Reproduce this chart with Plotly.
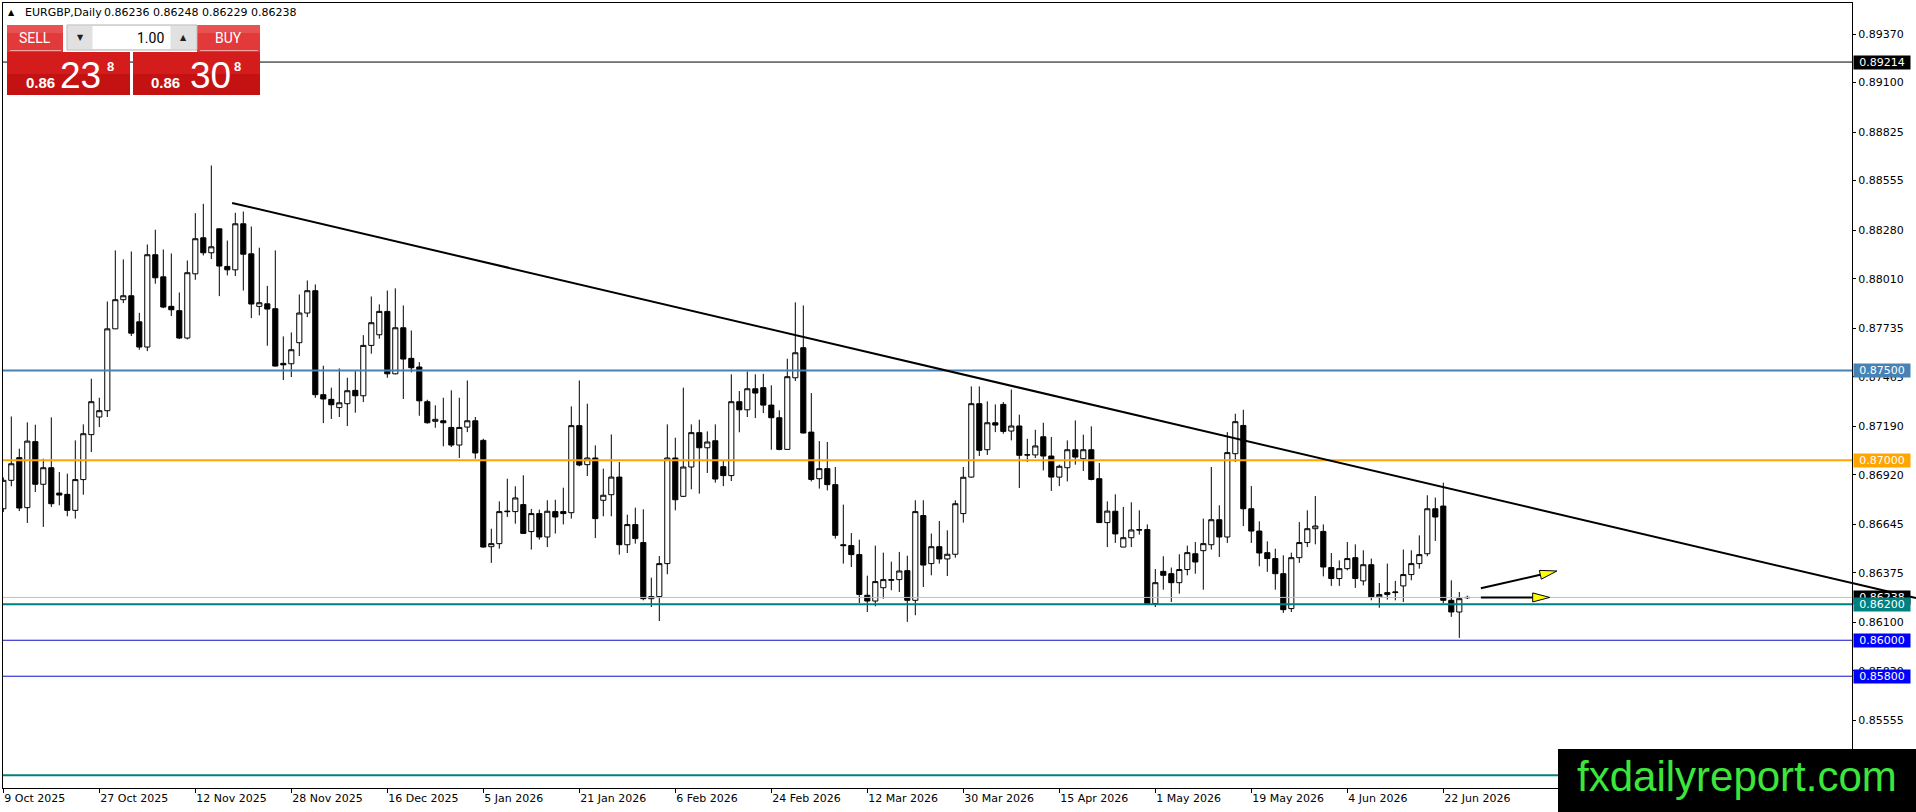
import pandas as pd
import plotly.graph_objects as go

# ---- data (EURGBP daily) ----
holidays = ["2025-12-25", "2026-01-01"]
dates = [d for d in pd.bdate_range("2025-10-09", periods=190)
         if d.strftime("%Y-%m-%d") not in holidays][:184]

open_ = [0.86731, 0.86889, 0.87015, 0.86737, 0.87104, 0.86867, 0.86959, 0.86818, 0.86811, 0.86722,
         0.86893, 0.87143, 0.87241, 0.87276, 0.87731, 0.87893, 0.87915, 0.87770, 0.87630, 0.88143,
         0.88020, 0.87856, 0.87832, 0.87680, 0.88037, 0.88237, 0.88154, 0.88287, 0.88078, 0.88059,
         0.88315, 0.88148, 0.87856, 0.87870, 0.87843, 0.87539, 0.87537, 0.87654, 0.87819, 0.87943,
         0.87365, 0.87339, 0.87293, 0.87315, 0.87389, 0.87359, 0.87639, 0.87698, 0.87828, 0.87481,
         0.87737, 0.87567, 0.87519, 0.87326, 0.87217, 0.87220, 0.87183, 0.87085, 0.87185, 0.87220,
         0.87111, 0.86520, 0.86537, 0.86718, 0.86715, 0.86754, 0.86604, 0.86704, 0.86574, 0.86715,
         0.86715, 0.86709, 0.87193, 0.86976, 0.87013, 0.86778, 0.86809, 0.86907, 0.86531, 0.86643,
         0.86543, 0.86231, 0.86243, 0.86426, 0.87013, 0.86800, 0.86963, 0.87154, 0.87070, 0.87109,
         0.86965, 0.86915, 0.87326, 0.87281, 0.87398, 0.87404, 0.87307, 0.87237, 0.87061, 0.87459,
         0.87626, 0.87157, 0.86898, 0.86954, 0.86865, 0.86531, 0.86526, 0.86476, 0.86250, 0.86218,
         0.86292, 0.86333, 0.86337, 0.86387, 0.86222, 0.86693, 0.86426, 0.86520, 0.86452, 0.86478,
         0.86704, 0.86907, 0.87315, 0.87059, 0.87209, 0.87311, 0.87163, 0.87191, 0.87031, 0.87030,
         0.87131, 0.87024, 0.86907, 0.86959, 0.87059, 0.87009, 0.87059, 0.86898, 0.86654, 0.86717,
         0.86518, 0.86570, 0.86615, 0.86615, 0.86204, 0.86383, 0.86370, 0.86320, 0.86393, 0.86481,
         0.86498, 0.86531, 0.86670, 0.86574, 0.87037, 0.87194, 0.86731, 0.86607, 0.86487, 0.86454,
         0.86370, 0.86176, 0.86459, 0.86543, 0.86620, 0.86605, 0.86404, 0.86343, 0.86398, 0.86459,
         0.86330, 0.86420, 0.86241, 0.86254, 0.86265, 0.86302, 0.86365, 0.86426, 0.86481, 0.86731,
         0.86746, 0.86222, 0.86157, 0.86236]
high = [0.86905, 0.87244, 0.87065, 0.87211, 0.87198, 0.87009, 0.87239, 0.86935, 0.86926, 0.87111,
        0.87200, 0.87454, 0.87348, 0.87883, 0.88167, 0.88117, 0.88161, 0.87820, 0.88200, 0.88282,
        0.88172, 0.88150, 0.87933, 0.88111, 0.88374, 0.88426, 0.88639, 0.88290, 0.88222, 0.88376,
        0.88383, 0.88300, 0.88182, 0.87970, 0.88167, 0.87689, 0.87711, 0.87922, 0.88000, 0.87978,
        0.87526, 0.87404, 0.87511, 0.87459, 0.87496, 0.87696, 0.87911, 0.87867, 0.87944, 0.87956,
        0.87861, 0.87722, 0.87546, 0.87337, 0.87306, 0.87348, 0.87389, 0.87348, 0.87444, 0.87241,
        0.87120, 0.86620, 0.86772, 0.86898, 0.86856, 0.86917, 0.86730, 0.86726, 0.86778, 0.86781,
        0.86848, 0.87300, 0.87444, 0.87315, 0.87083, 0.86954, 0.87144, 0.86991, 0.86698, 0.86737,
        0.86728, 0.86348, 0.86468, 0.87200, 0.87126, 0.87404, 0.87200, 0.87226, 0.87161, 0.87200,
        0.87000, 0.87478, 0.87385, 0.87494, 0.87478, 0.87481, 0.87417, 0.87278, 0.87565, 0.87878,
        0.87861, 0.87374, 0.87107, 0.87102, 0.86963, 0.86754, 0.86596, 0.86559, 0.86359, 0.86526,
        0.86487, 0.86437, 0.86491, 0.86470, 0.86778, 0.86778, 0.86593, 0.86663, 0.86611, 0.86778,
        0.86963, 0.87411, 0.87411, 0.87328, 0.87311, 0.87324, 0.87394, 0.87254, 0.87120, 0.87170,
        0.87209, 0.87130, 0.86976, 0.87111, 0.87222, 0.87143, 0.87189, 0.86985, 0.86772, 0.86811,
        0.86741, 0.86767, 0.86722, 0.86644, 0.86396, 0.86467, 0.86404, 0.86478, 0.86526, 0.86546,
        0.86676, 0.86963, 0.86750, 0.87157, 0.87259, 0.87281, 0.86857, 0.86661, 0.86550, 0.86509,
        0.86472, 0.86487, 0.86657, 0.86722, 0.86802, 0.86644, 0.86485, 0.86444, 0.86546, 0.86533,
        0.86500, 0.86454, 0.86318, 0.86426, 0.86330, 0.86504, 0.86500, 0.86583, 0.86806, 0.86793,
        0.86876, 0.86333, 0.86268, 0.86248]
low = [0.86713, 0.86856, 0.86718, 0.86652, 0.86824, 0.86630, 0.86741, 0.86750, 0.86689, 0.86676,
       0.86809, 0.87046, 0.87185, 0.87241, 0.87730, 0.87874, 0.87691, 0.87615, 0.87607, 0.87982,
       0.87846, 0.87802, 0.87674, 0.87672, 0.88004, 0.88139, 0.88119, 0.87913, 0.88028, 0.88024,
       0.87944, 0.87791, 0.87806, 0.87637, 0.87522, 0.87446, 0.87463, 0.87580, 0.87796, 0.87348,
       0.87207, 0.87230, 0.87241, 0.87191, 0.87265, 0.87324, 0.87593, 0.87676, 0.87459, 0.87478,
       0.87341, 0.87489, 0.87248, 0.87204, 0.87181, 0.87078, 0.87074, 0.87013, 0.87157, 0.87009,
       0.86515, 0.86430, 0.86509, 0.86685, 0.86648, 0.86593, 0.86504, 0.86559, 0.86518, 0.86593,
       0.86644, 0.86676, 0.86967, 0.86913, 0.86568, 0.86689, 0.86689, 0.86476, 0.86485, 0.86537,
       0.86222, 0.86185, 0.86107, 0.86367, 0.86722, 0.86796, 0.86839, 0.86815, 0.86930, 0.86876,
       0.86857, 0.86885, 0.87156, 0.87241, 0.87235, 0.87263, 0.87059, 0.87056, 0.87059, 0.87441,
       0.87150, 0.86883, 0.86843, 0.86833, 0.86565, 0.86426, 0.86407, 0.86207, 0.86157, 0.86189,
       0.86231, 0.86278, 0.86268, 0.86102, 0.86139, 0.86296, 0.86361, 0.86426, 0.86357, 0.86459,
       0.86654, 0.86904, 0.87024, 0.87030, 0.87157, 0.87148, 0.87111, 0.86846, 0.86991, 0.87013,
       0.86944, 0.86830, 0.86857, 0.86883, 0.86976, 0.86941, 0.86889, 0.86652, 0.86518, 0.86541,
       0.86517, 0.86518, 0.86587, 0.86202, 0.86185, 0.86281, 0.86213, 0.86259, 0.86361, 0.86370,
       0.86281, 0.86504, 0.86463, 0.86541, 0.86991, 0.86635, 0.86541, 0.86411, 0.86380, 0.86281,
       0.86152, 0.86157, 0.86430, 0.86518, 0.86533, 0.86355, 0.86302, 0.86302, 0.86389, 0.86291,
       0.86305, 0.86222, 0.86181, 0.86226, 0.86222, 0.86213, 0.86333, 0.86398, 0.86467, 0.86552,
       0.86207, 0.86130, 0.86013, 0.86229]
close = [0.86889, 0.86981, 0.86735, 0.87107, 0.86867, 0.86959, 0.86759, 0.86807, 0.86722, 0.86893,
         0.87148, 0.87326, 0.87276, 0.87731, 0.87893, 0.87915, 0.87707, 0.87630, 0.88143, 0.88015,
         0.87852, 0.87837, 0.87680, 0.88043, 0.88232, 0.88154, 0.88187, 0.88080, 0.88059, 0.88315,
         0.88146, 0.87869, 0.87876, 0.87841, 0.87524, 0.87531, 0.87615, 0.87819, 0.87943, 0.87365,
         0.87341, 0.87309, 0.87320, 0.87387, 0.87359, 0.87639, 0.87765, 0.87828, 0.87481, 0.87737,
         0.87563, 0.87515, 0.87331, 0.87209, 0.87228, 0.87209, 0.87085, 0.87183, 0.87220, 0.87041,
         0.86518, 0.86537, 0.86715, 0.86715, 0.86791, 0.86594, 0.86704, 0.86574, 0.86717, 0.86685,
         0.86704, 0.87193, 0.86974, 0.87013, 0.86676, 0.86806, 0.86907, 0.86531, 0.86643, 0.86565,
         0.86231, 0.86243, 0.86426, 0.87013, 0.86781, 0.86963, 0.87154, 0.87070, 0.87102, 0.86896,
         0.86915, 0.87326, 0.87281, 0.87398, 0.87374, 0.87307, 0.87237, 0.87061, 0.87465, 0.87598,
         0.87152, 0.86894, 0.86954, 0.86865, 0.86583, 0.86526, 0.86476, 0.86255, 0.86218, 0.86326,
         0.86337, 0.86337, 0.86385, 0.86222, 0.86715, 0.86418, 0.86520, 0.86452, 0.86478, 0.86759,
         0.86906, 0.87315, 0.87056, 0.87209, 0.87196, 0.87161, 0.87191, 0.87028, 0.87030, 0.87080,
         0.87024, 0.86907, 0.86967, 0.87059, 0.87018, 0.87059, 0.86894, 0.86654, 0.86718, 0.86591,
         0.86570, 0.86613, 0.86613, 0.86204, 0.86320, 0.86361, 0.86320, 0.86393, 0.86487, 0.86435,
         0.86537, 0.86670, 0.86574, 0.87043, 0.87215, 0.86731, 0.86607, 0.86485, 0.86454, 0.86370,
         0.86170, 0.86459, 0.86543, 0.86620, 0.86635, 0.86407, 0.86343, 0.86398, 0.86454, 0.86343,
         0.86420, 0.86241, 0.86254, 0.86265, 0.86268, 0.86365, 0.86426, 0.86476, 0.86731, 0.86685,
         0.86222, 0.86157, 0.86231, 0.86238]

bar = list(range(len(dates)))
tick_bars = bar[::12]
tick_text = [dates[i].strftime("%-d %b %Y") for i in tick_bars]
price_ticks = [0.89370, 0.89100, 0.88825, 0.88555, 0.88280, 0.88010, 0.87735, 0.87465,
               0.87190, 0.86920, 0.86645, 0.86375, 0.86100, 0.85830, 0.85555]

# horizontal levels drawn on the chart
level_prices = [0.89214, 0.87500, 0.87000, 0.86200, 0.86000, 0.85800, 0.85250]
# trend line anchors (bar index, price)
trend_bars = [28.6, 180.0]
trend_prices = [0.88431, 0.86851]
# the two drawn arrows: start / end (bar index, price)
arrow_bars = [(184.7, 194.2), (184.7, 193.3)]
arrow_prices = [(0.86289, 0.86385), (0.86238, 0.86238)]

# ---- geometry ----
W, H = 1916, 812
ML, MR, MT, MB = 3, 64, 3, 24
PW, PH = W - ML - MR, H - MT - MB
X0, X1 = -0.0375, -0.0375 + PW / 8.0
Y0, Y1 = 0.851787, 0.895423
FONT = "DejaVu Sans"


def pxx(x):
    return (x - ML) / PW


def pxy(y):
    return (MT + PH - y) / PH


def data_to_px(i, p):
    return ML + (i - X0) / (X1 - X0) * PW, MT + (Y1 - p) / (Y1 - Y0) * PH


fig = go.Figure(go.Candlestick(
    x=bar, open=open_, high=high, low=low, close=close,
    increasing=dict(line=dict(color="black", width=1), fillcolor="white"),
    decreasing=dict(line=dict(color="black", width=1), fillcolor="black"),
    whiskerwidth=0, hoverinfo="skip", showlegend=False,
))

shapes = []
level_line = [("#000000", 1), ("#4682B4", 2), ("#FFA500", 2), ("#008080", 2),
              ("#1010C8", 1), ("#1010C8", 1), ("#008080", 2)]
# bid line
shapes.append(dict(type="line", xref="paper", x0=0, x1=1, yref="y", y0=close[-1], y1=close[-1],
                   line=dict(color="#C0C0C0", width=1)))
for p, (c, w) in zip(level_prices, level_line):
    shapes.append(dict(type="line", xref="paper", x0=0, x1=1, yref="y", y0=p, y1=p,
                       line=dict(color=c, width=w)))

# trend line, extended to the right edge and a little over the price scale
slope = (trend_prices[1] - trend_prices[0]) / (trend_bars[1] - trend_bars[0])
y_edge = trend_prices[0] + slope * (X1 - trend_bars[0])
shapes.append(dict(type="line", xref="x", yref="y", x0=trend_bars[0], y0=trend_prices[0],
                   x1=X1, y1=y_edge, line=dict(color="black", width=2)))
x_far = X1 + MR / 8.0
y_far = trend_prices[0] + slope * (x_far - trend_bars[0])
shapes.append(dict(type="line", xref="paper", yref="paper", x0=1, y0=(y_edge - Y0) / (Y1 - Y0),
                   x1=(x_far - X0) / (X1 - X0), y1=(y_far - Y0) / (Y1 - Y0),
                   line=dict(color="black", width=2)))

# yellow arrows
for (b0, b1), (p0, p1) in zip(arrow_bars, arrow_prices):
    sx, sy = data_to_px(b0, p0)
    tx, ty = data_to_px(b1, p1)
    dx, dy = tx - sx, ty - sy
    n = (dx * dx + dy * dy) ** 0.5
    ux, uy = dx / n, dy / n
    bx, by = tx - 17 * ux, ty - 17 * uy
    shapes.append(dict(type="line", xref="paper", yref="paper", x0=pxx(sx), y0=pxy(sy),
                       x1=pxx(bx), y1=pxy(by), line=dict(color="black", width=2)))
    c1 = (bx - 4.5 * uy, by + 4.5 * ux)
    c2 = (bx + 4.5 * uy, by - 4.5 * ux)
    path = "M {:.5f},{:.5f} L {:.5f},{:.5f} L {:.5f},{:.5f} Z".format(
        pxx(tx), pxy(ty), pxx(c1[0]), pxy(c1[1]), pxx(c2[0]), pxy(c2[1]))
    shapes.append(dict(type="path", xref="paper", yref="paper", path=path,
                       fillcolor="#FFFF00", line=dict(color="black", width=1)))


def rect(x0, y0, x1, y1, fill, line=None):
    shapes.append(dict(type="rect", xref="paper", yref="paper",
                       x0=pxx(x0), x1=pxx(x1), y0=pxy(y1), y1=pxy(y0),
                       fillcolor=fill, line=dict(width=1 if line else 0, color=line or fill)))


# one-click trading panel
rect(7, 25, 63, 52, "#E23A3A")
rect(7, 25, 63, 33, "#E85252")
rect(197, 25, 260, 52, "#E23A3A")
rect(197, 25, 260, 33, "#E85252")
rect(10, 50, 61, 51, "#F2A0A0")
rect(200, 50, 258, 51, "#F2A0A0")
rect(67, 25, 197, 50, "#F0F0F0", "#B4B4B4")
rect(68, 26, 92, 49, "#E1E1E1")
rect(171, 26, 196, 49, "#E1E1E1")
rect(93, 26, 170, 49, "#FFFFFF")
rect(7, 52, 130, 95, "#D41C1C")
rect(7, 74, 130, 95, "#C41212")
rect(133, 52, 260, 95, "#D41C1C")
rect(133, 74, 260, 95, "#C41212")

# watermark box
rect(1558, 749, 1930, 830, "#000000")

ann = []


def text(x, y, s, size, color="black", anchor="left", family=FONT, weight="normal"):
    ann.append(dict(xref="paper", yref="paper", x=pxx(x), y=pxy(y), text=s, showarrow=False,
                    xanchor=anchor, yanchor="middle",
                    font=dict(family=family, size=size, color=color, weight=weight)))


text(6, 12.5, "▲", 8)
text(22.5, 12.5, "EURGBP,Daily", 11)
text(101.5, 12.5, " ".join(f"{v:.5f}" for v in (open_[-1], high[-1], low[-1], close[-1])), 11)

text(35, 38, "SELL", 14, "white", "center", "Roboto")
text(228, 38, "BUY", 14, "white", "center", "Roboto")
text(166, 38, "1.00", 14, "black", "right", "Roboto")
text(80, 38, "▼", 8, "#202020", "center")
text(183, 38, "▲", 8, "#202020", "center")
bid_txt, ask_txt = "0.8623", "0.8630"
text(24, 82.5, "0.86", 15, "white", "left", "Liberation Sans", "bold")
text(58, 75.5, "23", 37, "white", "left", "Liberation Sans")
text(105, 67, "8", 13, "white", "left", "Liberation Sans", "bold")
text(149, 82.5, "0.86", 15, "white", "left", "Liberation Sans", "bold")
text(188, 75.5, "30", 37, "white", "left", "Liberation Sans")
text(232, 67, "8", 13, "white", "left", "Liberation Sans", "bold")

text(1575, 776, "fxdailyreport.com", 42, "#3CE63C", "left", "Liberation Sans")

# price labels on the scale
label_items = [(level_prices[0], "#000000"), (level_prices[1], "#4682B4"),
               (level_prices[2], "#FFA500"), (close[-1], "#000000"),
               (level_prices[3], "#008080"), (level_prices[4], "#0000FF"),
               (level_prices[5], "#0000FF")]
for p, c in label_items:
    ann.append(dict(xref="paper", yref="y", x=1, y=p, xanchor="left", yanchor="middle",
                    xshift=1, text=f"{p:.5f}", showarrow=False, bgcolor=c, borderpad=0,
                    width=56, height=13, align="center",
                    font=dict(family=FONT, size=11, color="white")))

fig.update_layout(
    width=W, height=H, margin=dict(l=ML, r=MR, t=MT, b=MB),
    paper_bgcolor="white", plot_bgcolor="white", hovermode=False,
    shapes=shapes, annotations=ann, boxgap=0.2, boxgroupgap=0.2,
    font=dict(family=FONT, size=11, color="black"),
    xaxis=dict(range=[X0, X1], rangeslider=dict(visible=False), showgrid=False, zeroline=False,
               tickvals=tick_bars, ticktext=tick_text, ticks="outside", ticklen=4,
               tickcolor="black", ticklabelposition="outside right",
               showline=True, linecolor="black", linewidth=1, mirror=True,
               tickfont=dict(family=FONT, size=11, color="black")),
    yaxis=dict(range=[Y0, Y1], side="right", showgrid=False, zeroline=False,
               tickvals=price_ticks, tickformat=".5f", ticks="outside", ticklen=3,
               tickcolor="black", showline=True, linecolor="black", linewidth=1, mirror=True,
               tickfont=dict(family=FONT, size=11, color="black")),
)

fig.write_html("out.html", config={"displayModeBar": False},
               post_script="document.body.style.margin='0';document.body.style.overflow='hidden';")
